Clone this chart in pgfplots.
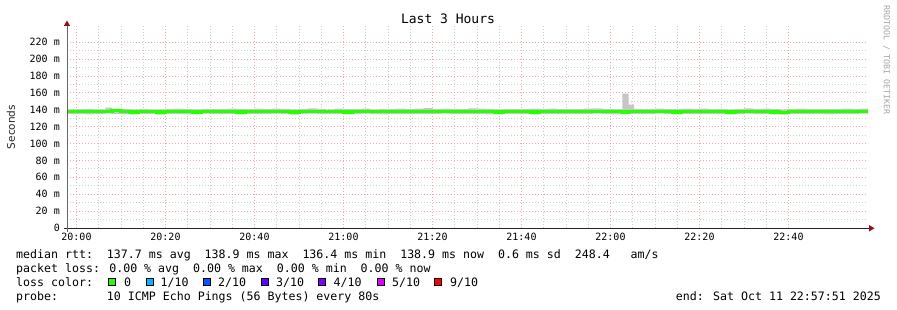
\documentclass[border=0pt]{standalone}
\usepackage{pgfplots}
\pgfplotsset{compat=1.18}
\usepackage{pgfplotstable}
\usepackage{fontspec}
\setmainfont{DejaVu Sans}
\newfontfamily\mono{DejaVu Sans Mono}
\definecolor{mgrid}{RGB}{238,170,170}
\definecolor{sgrid}{RGB}{205,205,205}
\definecolor{smoke}{RGB}{198,198,198}
\definecolor{arrowred}{RGB}{140,20,20}
\definecolor{loss0}{HTML}{26FF00}
\definecolor{loss1}{HTML}{00B8FF}
\definecolor{loss2}{HTML}{0059FF}
\definecolor{loss3}{HTML}{5E00FF}
\definecolor{loss4}{HTML}{7E00FF}
\definecolor{loss5}{HTML}{DD00FF}
\definecolor{loss9}{HTML}{FF0000}

% x: minutes after 20:00, values in ms
\pgfplotstableread{
x med lo hi
-2.13 137.6 134.8 140.4
0 137.4 135.1 140.6
2 137.8 134.5 140.9
4 137.5 134.9 140.4
6.5 138.2 135.3 142.5
8 138.6 135.1 141.2
10 137.9 134.6 140.7
12 137.3 134.5 140.4
14 137.6 134.8 140.8
16 137.7 134.7 140.5
18 137.2 134.2 140.4
20 137.5 135.1 140.8
22 138.0 135.0 141.2
24 137.6 134.5 140.6
26 137.3 134.8 140.3
28 137.8 135.2 140.9
30 137.9 134.9 140.7
32 137.4 134.6 141.0
34 137.6 135.0 141.3
36 137.2 134.3 140.8
38 137.7 135.1 140.6
40 137.9 134.7 141.1
42 137.5 134.9 140.7
44 138.0 135.3 141.3
46 137.6 134.6 140.9
48 137.3 134.2 140.5
50 137.8 135.0 141.0
52 138.3 135.4 141.4
54 137.7 134.8 140.8
56 137.4 134.9 140.4
58 137.9 134.6 141.1
60 137.3 134.4 140.6
62 137.5 134.8 140.9
64 137.9 135.2 141.2
66 137.6 134.7 140.5
68 137.4 134.5 140.9
70 137.8 135.0 141.0
72 137.5 134.8 141.3
74 137.7 134.6 140.6
76 138.0 135.1 141.1
78 137.6 134.7 141.7
80 137.9 135.0 140.9
82 138.2 135.3 141.2
84 137.7 134.8 141.0
86 137.5 134.6 140.7
88 138.3 135.1 141.4
90 138.0 134.9 141.1
92 137.6 134.4 140.8
94 137.2 134.3 140.5
96 137.8 134.9 141.0
98 137.5 134.7 140.6
100 137.7 135.0 140.8
102 137.3 134.5 141.2
104 137.6 134.8 140.9
106 137.9 134.9 141.3
108 137.4 134.6 140.6
110 137.8 135.1 141.0
112 137.5 134.8 140.7
114 137.7 134.9 141.1
116 138.0 135.2 141.5
118 137.8 134.7 141.0
120 137.4 134.4 140.7
122.7 137.2 134.8 159.0
124.1 137.7 134.9 146.0
125.3 137.8 135.1 140.8
127 137.5 134.8 140.6
128 137.9 135.0 141.0
130 138.1 135.2 141.3
132 137.6 134.7 140.7
134 137.3 134.5 140.9
136 137.8 135.1 141.2
138 137.6 134.8 140.8
140 137.9 134.6 141.1
142 137.4 134.9 140.6
144 137.7 134.5 140.9
146 137.2 134.3 140.5
148 137.5 134.8 141.0
150 137.9 135.2 141.4
152 137.6 134.7 140.8
154 137.8 135.0 141.2
156 137.3 134.4 140.7
158 137.1 134.1 140.4
160 137.5 134.8 140.9
162 137.8 134.9 141.1
164 137.6 134.6 141.0
166 137.9 135.1 140.8
168 137.4 134.5 140.6
170 137.7 134.9 140.9
172 138.0 135.0 141.2
174 137.6 134.7 141.0
176 138.1 135.2 141.3
177.87 138.1 135.2 141.3
}\rtt

\pgfplotsset{rrdframe/.style={
  at={(67pt,-228pt)}, anchor=south west,
  scale only axis, width=801pt, height=202pt,
  xmin=-2.13, xmax=177.87, ymin=0, ymax=239,
}}

\begin{document}
\begin{tikzpicture}
\path[fill=white] (0pt,0pt) rectangle (897pt,-310pt);
\begin{axis}[
  rrdframe, name=ax,
  axis x line*=bottom, axis y line*=left,
  axis line style={draw=none},
  xtick={0,20,...,160},
  xticklabels={20:00,20:20,20:40,21:00,21:20,21:40,22:00,22:20,22:40},
  minor x tick num=3,
  ytick={0,20,...,220},
  yticklabels={0,20 m,40 m,60 m,80 m,100 m,120 m,140 m,160 m,180 m,200 m,220 m},
  minor y tick num=1,
  tick style={draw=none},
  grid=both,
  major grid style={mgrid, line width=0.7pt, dash pattern=on 1pt off 2pt},
  minor grid style={sgrid, line width=0.7pt, dash pattern=on 1pt off 2pt},
  xticklabel style={font=\mono\fontsize{10}{12}\selectfont, inner sep=0pt, anchor=north, yshift=-5pt},
  yticklabel style={font=\mono\fontsize{10}{12}\selectfont, inner sep=0pt, anchor=east, xshift=-7pt},
  stack plots=y,
]
% smoke: invisible base at the minimum, filled band up to the maximum
\addplot[draw=none, const plot mark left] table[x=x, y=lo] {\rtt};
\addplot[fill=smoke, draw=none, const plot mark left] table[x=x, y expr=\thisrow{hi}-\thisrow{lo}] {\rtt} \closedcycle;
\end{axis}
% median rtt, in an overlaid axis with identical frame
\begin{axis}[rrdframe, axis lines=none, ticks=none]
\addplot[loss0, line width=3.2pt, const plot mark left] table[x=x, y=med] {\rtt};
\end{axis}
% axis lines and arrows
\draw[black!85, line width=1pt] (64pt,-228pt) -- (869pt,-228pt);
\draw[black!60, line width=1pt] (67pt,-232pt) -- (67pt,-26pt);
\fill[arrowred] (869pt,-225pt) -- (869pt,-231.5pt) -- (874.5pt,-228.2pt) -- cycle;
\fill[arrowred] (63.8pt,-26pt) -- (70.2pt,-26pt) -- (67pt,-20.5pt) -- cycle;
% title and labels
\node[anchor=base, inner sep=0pt, font=\mono\fontsize{13}{15}\selectfont] at (448pt,-24pt) {Last 3 Hours};
\node[rotate=90, inner sep=0pt, font=\fontsize{10.5}{12}\selectfont, text=black!85] at (11pt,-127pt) {Seconds};
\node[rotate=-90, inner sep=0pt, font=\mono\fontsize{8.3}{10}\selectfont, text=black!35] at (886.5pt,-60pt) {RRDTOOL / TOBI OETIKER};
% legend text
\begin{scope}[every node/.style={anchor=base west, inner sep=0pt, font=\mono\fontsize{11.6}{14}\selectfont}]
\node at (16pt,-258pt) {median rtt:~~137.7 ms avg~~138.9 ms max~~136.4 ms min~~138.9 ms now~~0.6 ms sd~~248.4~~~am/s};
\node at (16pt,-272pt) {packet loss: 0.00 \% avg~~0.00 \% max~~0.00 \% min~~0.00 \% now};
\node at (16pt,-286pt) {loss color:};
\node at (124pt,-286pt) {0};
\node at (160.5pt,-286pt) {1/10};
\node at (218pt,-286pt) {2/10};
\node at (276pt,-286pt) {3/10};
\node at (333.5pt,-286pt) {4/10};
\node at (392pt,-286pt) {5/10};
\node at (450pt,-286pt) {9/10};
\node at (16pt,-300pt) {probe:~~~~~~~10 ICMP Echo Pings (56 Bytes) every 80s};
\end{scope}
\node[anchor=base east, inner sep=0pt, font=\mono\fontsize{11.6}{14}\selectfont] at (881pt,-300pt) {end: Sat Oct 11 22:57:51 2025};
% loss colour keys
\foreach \xx/\cc in {108.5/loss0,146/loss1,203.5/loss2,261.5/loss3,318.5/loss4,377/loss5,434.5/loss9}
  \filldraw[draw=black, fill=\cc, line width=0.8pt] (\xx pt,-278.5pt) rectangle ++(7pt,-7pt);
\useasboundingbox (0pt,0pt) rectangle (897pt,-310pt);
\end{tikzpicture}
\end{document}
